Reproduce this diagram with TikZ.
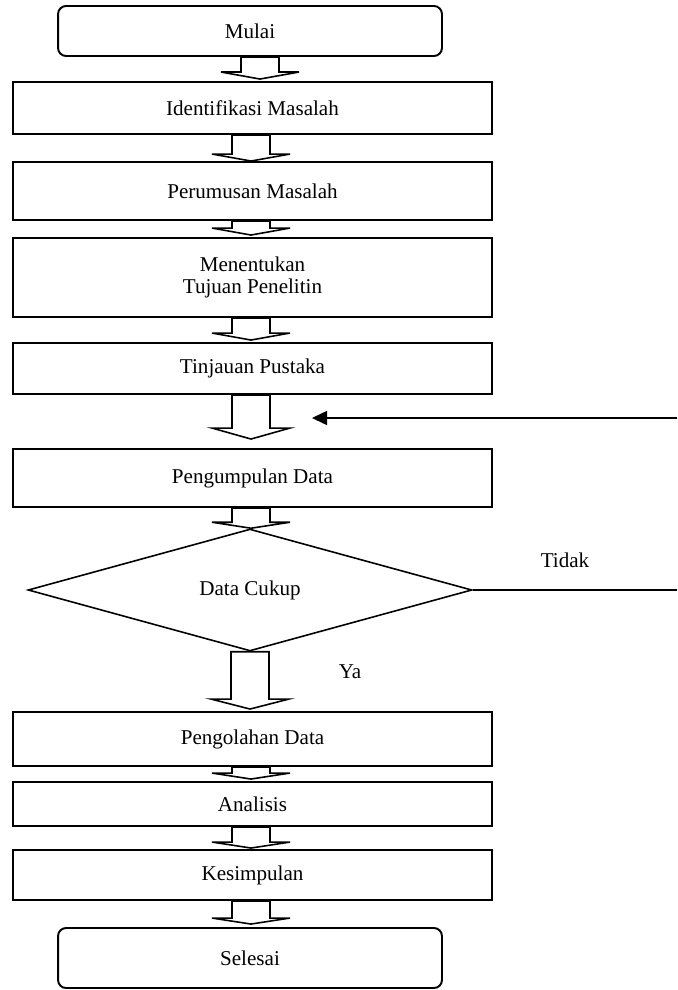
\documentclass[tikz,border=0pt]{standalone}
\usepackage{fontspec}
\setmainfont{Liberation Serif}
\usetikzlibrary{shapes.geometric,arrows.meta,calc}

\tikzset{
  teks/.style={font=\fontsize{12}{13}\selectfont},
  prosesbox/.style={draw, teks, line width=1.1pt, minimum width=9.58cm, inner sep=2pt, align=center},
  terminal/.style={prosesbox, rounded corners=0.16cm, minimum width=7.68cm},
  keputusan/.style={draw, teks, diamond, line width=0.9pt, minimum width=8.88cm, minimum height=2.44cm, inner sep=0pt},
  blockline/.style={line width=0.9pt, line join=miter}
}

% hollow block arrow: [xshift] source, target, gap above target, head height
\newcommand{\blockarrow}[5][0cm]{%
  \draw[blockline] let \p1=($(#2.south)+(#1,0cm)$), \p2=(#3.north) in
    (\x1-0.38cm,\y1) -- (\x1-0.38cm,\y2+#4+#5) -- (\x1-0.78cm,\y2+#4+#5)
    -- (\x1,\y2+#4) -- (\x1+0.78cm,\y2+#4+#5) -- (\x1+0.38cm,\y2+#4+#5)
    -- (\x1+0.38cm,\y1) -- cycle;}

\begin{document}
\begin{tikzpicture}[x=0.02cm, y=-0.02cm]
	\useasboundingbox (0,0) rectangle (677,990);

	\node[terminal, minimum height=1.0cm] (mulai) at (250,31) {Mulai};
	\node[prosesbox, minimum height=1.04cm] (identifikasi) at (252.5,108) {Identifikasi Masalah};
	\node[prosesbox, minimum height=1.16cm] (perumusan) at (252.5,191) {Perumusan Masalah};
	\node[prosesbox, minimum height=1.58cm] (tujuan) at (252.5,277.5) {Menentukan\\Tujuan Penelitin};
	\node[prosesbox, minimum height=1.02cm] (pustaka) at (252.5,368.5) {Tinjauan Pustaka};
	\node[prosesbox, minimum height=1.16cm] (pengumpulan) at (252.5,478) {Pengumpulan Data};
	\node[keputusan] (cukup) at (250,590) {Data Cukup};
	\node[prosesbox, minimum height=1.08cm] (pengolahan) at (252.5,739) {Pengolahan Data};
	\node[prosesbox, minimum height=0.88cm] (analisis) at (252.5,804) {Analisis};
	\node[prosesbox, minimum height=1.0cm] (kesimpulan) at (252.5,875) {Kesimpulan};
	\node[terminal, minimum height=1.2cm] (selesai) at (250,958) {Selesai};

	% arrows between the steps
	\blockarrow[0.2cm]{mulai}{identifikasi}{0.04cm}{0.14cm}
	\blockarrow[-0.03cm]{identifikasi}{perumusan}{0cm}{0.14cm}
	\blockarrow[-0.03cm]{perumusan}{tujuan}{0.04cm}{0.14cm}
	\blockarrow[-0.03cm]{tujuan}{pustaka}{0.04cm}{0.14cm}
	\blockarrow[-0.03cm]{pustaka}{pengumpulan}{0.18cm}{0.22cm}
	\blockarrow[-0.03cm]{pengumpulan}{cukup}{0cm}{0.12cm}
	\blockarrow{cukup}{pengolahan}{0.04cm}{0.2cm}
	\blockarrow[-0.03cm]{pengolahan}{analisis}{0.04cm}{0.12cm}
	\blockarrow[-0.03cm]{analisis}{kesimpulan}{0.02cm}{0.12cm}
	\blockarrow[-0.03cm]{kesimpulan}{selesai}{0.06cm}{0.12cm}

	% loop back
	\coordinate (tidakujung) at (677,590);
	\coordinate (kembali) at (677,418);
	\coordinate (kembaliujung) at (312,418);
	\draw[line width=0.9pt] (cukup.east) -- (tidakujung);
	\draw[line width=0.9pt, -{Triangle[length=0.3cm, width=0.28cm]}] (kembali) -- (kembaliujung);

	\node[teks] (tidak) at (565,560) {Tidak};
	\node[teks] (ya) at (350,672) {Ya};

\end{tikzpicture}
\end{document}
